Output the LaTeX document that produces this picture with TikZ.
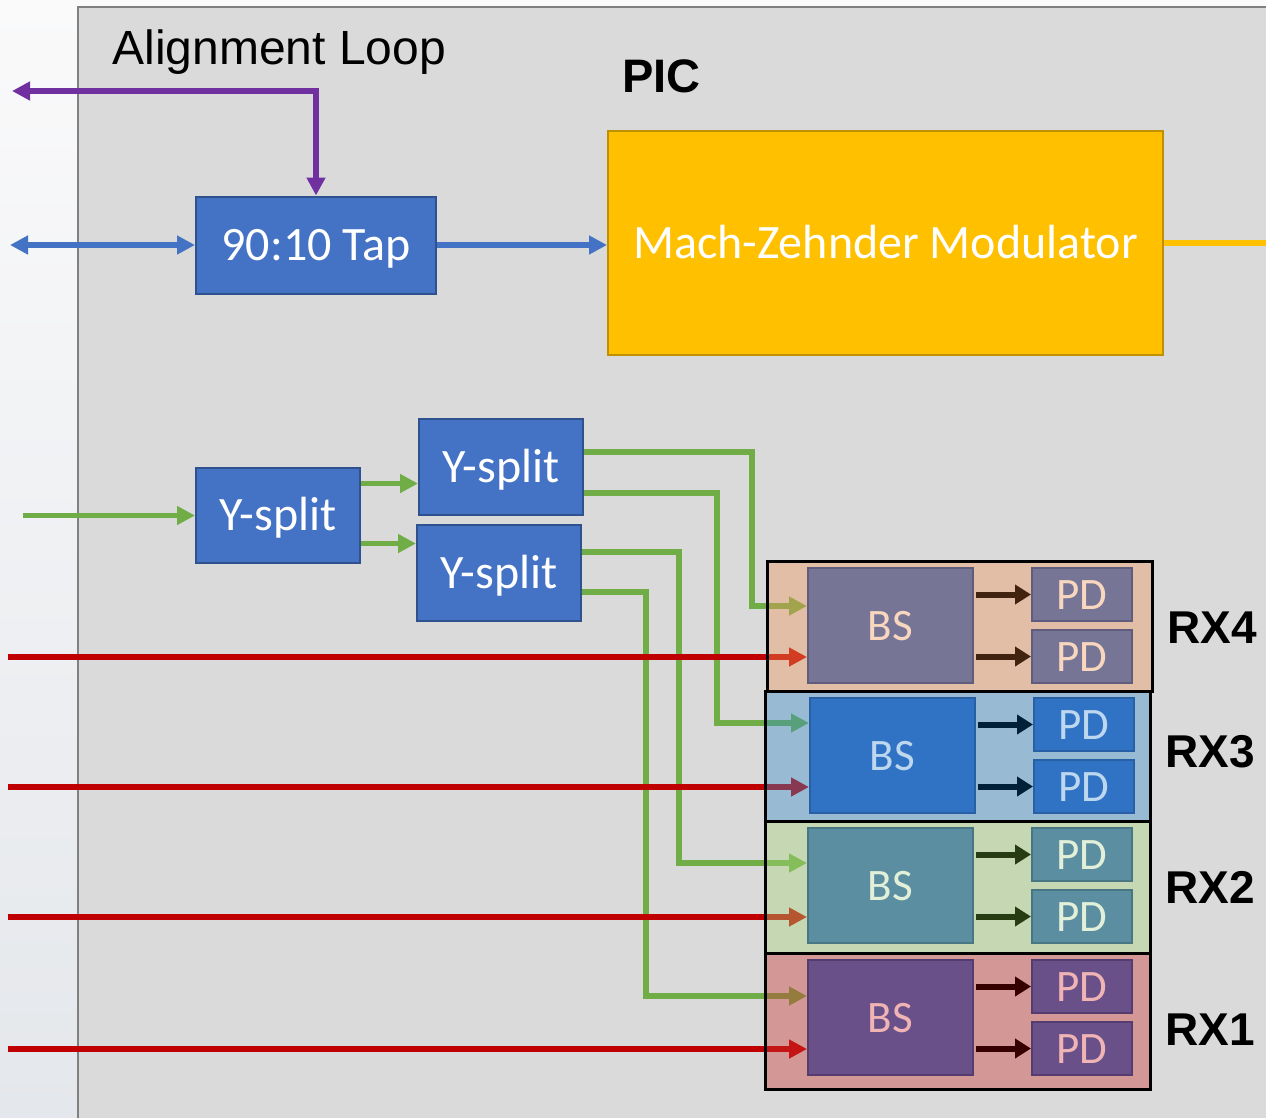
\documentclass[tikz,border=0pt]{standalone}
\usepackage{fontspec}
\setmainfont{Liberation Sans}
\newfontfamily\calibri{Carlito}
\usetikzlibrary{arrows.meta,calc}
\pgfdeclarelayer{bg}
\pgfdeclarelayer{lines}
\pgfdeclarelayer{tint}
\pgfsetlayers{bg,lines,tint,main}

\definecolor{slidetop}{RGB}{250,250,251}
\definecolor{slidebot}{RGB}{228,231,235}
\definecolor{panelgrey}{RGB}{218,218,218}
\definecolor{paneledge}{RGB}{128,128,128}
\definecolor{tapblue}{RGB}{68,114,196}
\definecolor{tapedge}{RGB}{47,82,143}
\definecolor{mzmfill}{RGB}{255,192,0}
\definecolor{mzmedge}{RGB}{191,144,0}
\definecolor{loopviolet}{RGB}{112,48,160}
\definecolor{logreen}{RGB}{112,173,71}
\definecolor{sigred}{RGB}{192,0,0}
% receiver colours, one set per RX
\definecolor{tint4}{RGB}{237,150,87}
\definecolor{body4}{RGB}{118,117,150}
\definecolor{edge4}{RGB}{95,92,125}
\definecolor{ink4}{RGB}{248,215,190}
\definecolor{dark4}{RGB}{65,35,15}
\definecolor{tint3}{RGB}{54,142,202}
\definecolor{body3}{RGB}{48,114,196}
\definecolor{edge3}{RGB}{40,95,165}
\definecolor{ink3}{RGB}{189,215,238}
\definecolor{dark3}{RGB}{0,32,56}
\definecolor{tint2}{RGB}{167,215,122}
\definecolor{body2}{RGB}{90,142,160}
\definecolor{edge2}{RGB}{72,118,130}
\definecolor{ink2}{RGB}{226,240,217}
\definecolor{dark2}{RGB}{40,60,20}
\definecolor{tint1}{RGB}{202,52,50}
\definecolor{body1}{RGB}{105,80,137}
\definecolor{edge1}{RGB}{85,60,110}
\definecolor{ink1}{RGB}{240,180,180}
\definecolor{dark1}{RGB}{55,0,0}

\tikzset {>={Triangle[length=18pt,width=18pt]}}
\tikzset{
  block/.style={draw=tapedge,fill=tapblue,line width=2pt,text=white,inner sep=0pt,
    font=\calibri\fontsize{48}{50}\selectfont,text height=30.6pt,text depth=0pt},
  mzmbox/.style={block,draw=mzmedge,fill=mzmfill,minimum width=555pt,minimum height=224pt},
  bsbox/.style={line width=2pt,inner sep=0pt,minimum width=165pt,minimum height=115pt,
    font=\calibri\fontsize{45}{50}\selectfont,text height=29pt,text depth=0pt},
  pdbox/.style={bsbox,minimum width=100pt,minimum height=53pt},
  pdarrow/.style={line width=6pt,-{Triangle[length=16pt,width=19pt]}},
  rxlabel/.style={font=\bfseries\fontsize{46}{50}\selectfont},
  fibre/.style={line width=5.5pt},
}

\begin{document}
\begin{tikzpicture}[x=1pt,y=-1pt]
\useasboundingbox (0,0) rectangle (1266,1117);

% slide and chip outline
\begin{pgfonlayer}{bg}
\shade[top color=slidetop,bottom color=slidebot] (0,0) rectangle (1266,1117);
\fill[panelgrey] (78,7) rectangle (1280,1130);
\draw[paneledge,line width=2.5pt] (78,1130) -- (78,7) -- (1280,7);
\end{pgfonlayer}

\node[anchor=base west,font=\fontsize{48}{50}\selectfont] (looplabel) at (109,64) {Alignment Loop};
\node[anchor=base west,font=\bfseries\fontsize{47}{50}\selectfont] (piclabel) at (619,92) {PIC};

\node[block,minimum width=240pt,minimum height=97pt] (tap) at (316,245) {90:10 Tap};
\node[mzmbox] (mzm) at (885.5,243) {Mach-Zehnder Modulator};
\node[block,minimum width=164pt,minimum height=95pt] (ysplita) at (278,515.5) {Y-split};
\node[block,minimum width=164pt,minimum height=96pt] (ysplitb) at (501,467) {Y-split};
\node[block,minimum width=164pt,minimum height=96pt] (ysplitc) at (499,573) {Y-split};

% receivers: box, beam splitter, two photodiodes
\foreach \k/\x/\cx/\y/\hgt/\gofs/\lbly in {4/767/890.5/561/130/19.5/628,3/765/892.5/691/130/32.5/752,
    2/765/890.5/821/132/22.5/887,1/765/890.5/953/136/21.5/1030}
{
  \begin{pgfonlayer}{tint}
  \fill[tint\k,fill opacity=.4] (\x,\y) rectangle ++(385,\hgt);
  \end{pgfonlayer}
  \draw[line width=3pt] (\x,\y) rectangle ++(385,\hgt);
  \node[bsbox,fill=body\k,draw=edge\k,text=ink\k] (bs\k) at (\cx,\y+64.5) {BS};
  \node[pdbox,fill=body\k,draw=edge\k,text=ink\k] (pda\k) at (\cx+191.5,\y+33.5) {PD};
  \node[pdbox,fill=body\k,draw=edge\k,text=ink\k] (pdb\k) at (\cx+191.5,\y+95.5) {PD};
  \draw[pdarrow,dark\k] ([xshift=2pt]bs\k.east |- pda\k) -- (pda\k.west);
  \draw[pdarrow,dark\k] ([xshift=2pt]bs\k.east |- pdb\k) -- (pdb\k.west);
  \node[rxlabel] (rx\k) at (\x+445,\lbly) {RX\k};
  \coordinate (gin\k) at ([yshift=\gofs]bs\k.west);
  \coordinate (rin\k) at ([yshift=-31.5]bs\k.west);
  \coordinate (sig\k) at (rin\k -| 8,0);
}

\coordinate (loopout) at (12,91);
\coordinate (fibreio) at (10,245);
\coordinate (mzmout) at (1270,243);
\coordinate (loin) at (23,515.5);

\begin{pgfonlayer}{lines}
\draw[fibre,loopviolet,<->] (loopout) -| (tap.north);
\draw[fibre,tapblue,<->] (fibreio) -- (tap.west);
\draw[fibre,tapblue,->] (tap.east) -- (tap.east -| mzm.west);
\draw[fibre,mzmfill] (mzm.east) -- (mzmout);

% local oscillator tree
\draw[fibre,logreen,->] (loin) -- (ysplita.west);
\draw[fibre,logreen,->] ([yshift=32]ysplita.east) -- ([yshift=32]ysplita.east -| ysplitb.west);
\draw[fibre,logreen,->] ([yshift=-28]ysplita.east) -- ([yshift=-28]ysplita.east -| ysplitc.west);
\draw[fibre,logreen,->] ([yshift=15]ysplitb.east) -- ++(168,0) |- (gin4);
\draw[fibre,logreen,->] ([yshift=-26]ysplitb.east) -- ++(133,0) |- (gin3);
\draw[fibre,logreen,->] ([yshift=21]ysplitc.east) -- ++(97,0) |- (gin2);
\draw[fibre,logreen,->] ([yshift=-19]ysplitc.east) -- ++(64,0) |- (gin1);

\foreach \k in {1,...,4}
  \draw[line width=6pt,sigred,->] (sig\k) -- (rin\k);
\end{pgfonlayer}
\end{tikzpicture}
\end{document}
